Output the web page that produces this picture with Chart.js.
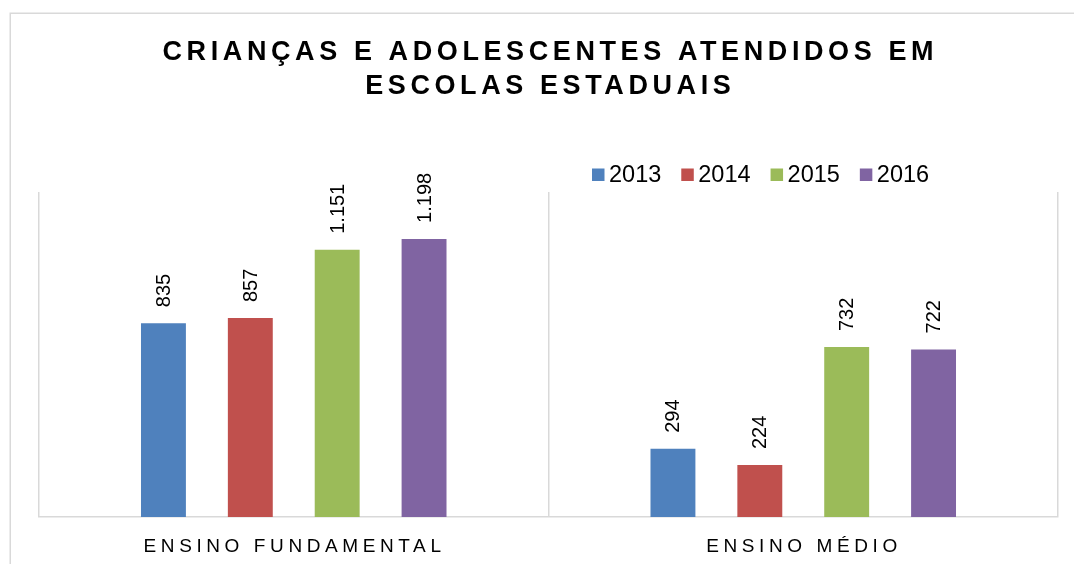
<!DOCTYPE html>
<html>
<head>
<meta charset="utf-8">
<script src="https://cdn.jsdelivr.net/npm/chart.js@4.4.1/dist/chart.umd.min.js"></script>
<style>
  html, body { margin: 0; padding: 0; background: #ffffff; }
  #wrap { width: 1074px; height: 564px; position: relative; }
</style>
</head>
<body>
<div id="wrap"><canvas id="c" width="1074" height="564"></canvas></div>
<script>
// ---- data ----
const categories = ['ENSINO FUNDAMENTAL', 'ENSINO MÉDIO'];
const seriesLabels = ['2013', '2014', '2015', '2016'];
const values2013 = [835, 294];
const values2014 = [857, 224];
const values2015 = [1151, 732];
const values2016 = [1198, 722];
const titleLines = ['CRIANÇAS E ADOLESCENTES ATENDIDOS EM', 'ESCOLAS ESTADUAIS'];
const yMin = 0;
const yMax = 1400;

// ---- styles ----
const FONT = '"Liberation Sans", Arial, Helvetica, sans-serif';
const colors = ['#4F81BD', '#C0504D', '#9BBB59', '#8064A2'];
const gridColor = '#d9d9d9';

function fmtPt(v) {
  return String(v).replace(/\B(?=(\d{3})+(?!\d))/g, '.');
}

const seriesValues = [values2013, values2014, values2015, values2016];

const framePlugin = {
  id: 'frame',
  beforeDraw(chart) {
    const ctx = chart.ctx;
    ctx.save();
    ctx.fillStyle = '#ffffff';
    ctx.fillRect(0, 0, chart.width, chart.height);
    ctx.strokeStyle = gridColor;
    ctx.lineWidth = 1.5;
    ctx.strokeRect(10.25, 13.25, chart.width + 20, chart.height + 20);
    ctx.restore();
  }
};

const titlePlugin = {
  id: 'customTitle',
  afterDraw(chart) {
    const ctx = chart.ctx;
    ctx.save();
    ctx.fillStyle = '#000000';
    ctx.font = 'bold 27px ' + FONT;
    ctx.letterSpacing = '4.6px';
    ctx.textAlign = 'center';
    ctx.textBaseline = 'alphabetic';
    const cx = 550.3;
    ctx.fillText(titleLines[0], cx, 60);
    ctx.fillText(titleLines[1], cx, 94);
    ctx.restore();
  }
};

const legendPlugin = {
  id: 'customLegend',
  afterDraw(chart) {
    const ctx = chart.ctx;
    ctx.save();
    ctx.font = '23.5px ' + FONT;
    ctx.textBaseline = 'alphabetic';
    ctx.textAlign = 'left';
    let x = 592;
    chart.data.datasets.forEach((ds) => {
      ctx.fillStyle = ds.backgroundColor;
      ctx.fillRect(x, 168.5, 12.5, 12.5);
      ctx.fillStyle = '#000000';
      ctx.fillText(ds.label, x + 17, 182);
      x += 17 + ctx.measureText(ds.label).width + 20;
    });
    ctx.restore();
  }
};

const catLabelPlugin = {
  id: 'catLabels',
  afterDraw(chart) {
    const ctx = chart.ctx;
    const xs = chart.scales.x;
    ctx.save();
    ctx.fillStyle = '#000000';
    ctx.font = '19px ' + FONT;
    ctx.letterSpacing = '4.6px';
    ctx.textAlign = 'center';
    ctx.textBaseline = 'alphabetic';
    chart.data.labels.forEach((lab, i) => {
      ctx.fillText(lab, xs.getPixelForTick(i) + 0.8, 552);
    });
    ctx.restore();
  }
};

const dataLabelPlugin = {
  id: 'dataLabels',
  afterDatasetsDraw(chart) {
    const ctx = chart.ctx;
    ctx.save();
    ctx.fillStyle = '#000000';
    ctx.font = '20px ' + FONT;
    chart.data.datasets.forEach((ds, i) => {
      const meta = chart.getDatasetMeta(i);
      meta.data.forEach((bar, j) => {
        ctx.save();
        ctx.translate(bar.x + 1, bar.y - 16);
        ctx.rotate(-Math.PI / 2);
        ctx.textAlign = 'left';
        ctx.textBaseline = 'middle';
        ctx.fillText(fmtPt(ds.data[j]), 0, 0);
        ctx.restore();
      });
    });
    ctx.restore();
  }
};

new Chart(document.getElementById('c'), {
  type: 'bar',
  data: {
    labels: categories,
    datasets: seriesLabels.map((lab, i) => ({
      label: lab,
      data: seriesValues[i],
      backgroundColor: colors[i],
      borderWidth: 0,
      categoryPercentage: 0.682,
      barPercentage: 0.517
    }))
  },
  options: {
    responsive: false,
    animation: false,
    devicePixelRatio: 1,
    layout: { padding: { left: 39, right: 16, top: 192, bottom: 47 } },
    plugins: {
      legend: { display: false },
      title: { display: false },
      tooltip: { enabled: false }
    },
    scales: {
      x: {
        type: 'category',
        grid: { display: true, offset: true, color: gridColor, lineWidth: 1.5, drawTicks: false },
        border: { display: true, color: gridColor, width: 1.5 },
        ticks: { display: false }
      },
      y: {
        display: false,
        min: yMin,
        max: yMax,
        grid: { display: false }
      }
    }
  },
  plugins: [framePlugin, titlePlugin, legendPlugin, catLabelPlugin, dataLabelPlugin]
});
</script>
</body>
</html>
